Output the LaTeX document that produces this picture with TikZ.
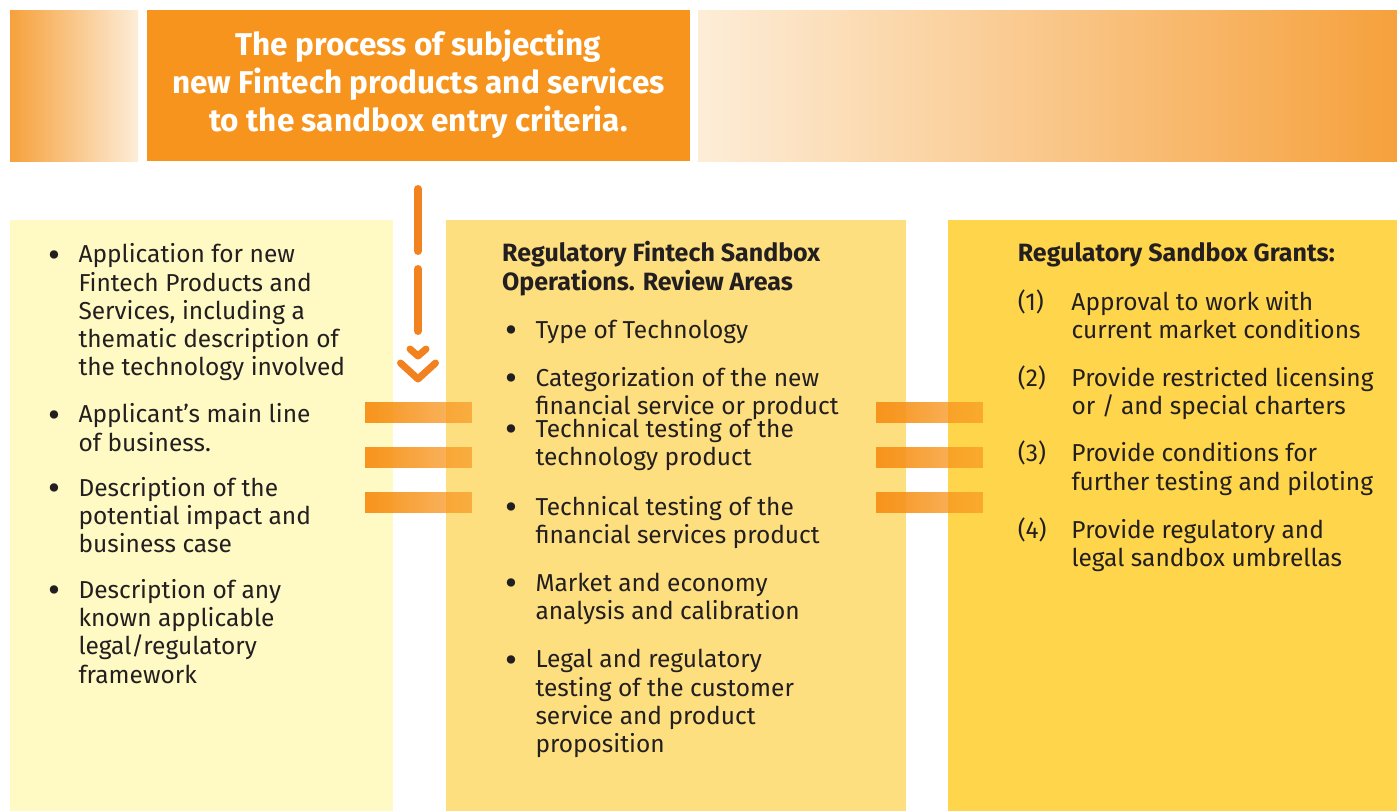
\documentclass[tikz,border=0pt]{standalone}
\usepackage{graphicx}
\usepackage{fontspec}
\setmainfont{Fira Sans}
\usetikzlibrary{fadings}
\definecolor{sbOrange}{RGB}{247,148,29}
\definecolor{sbArrow}{RGB}{242,130,32}
\definecolor{sbDeep}{RGB}{246,161,60}
\definecolor{sbPale}{RGB}{253,237,216}
\definecolor{sbLemon}{RGB}{255,249,196}
\definecolor{sbHoney}{RGB}{253,223,128}
\definecolor{sbGold}{RGB}{255,213,75}
\definecolor{sbInk}{RGB}{35,31,32}
\tikzfading[name=barfade,left color=transparent!0,right color=transparent!35]
\newcommand{\bulmark}{\makebox[0pt][r]{\makebox[29pt][l]{\hspace{-1.5pt}\raisebox{-4.3pt}{\scalebox{1.5}{\textbullet}}}}}
\newcommand{\nummark}[1]{\makebox[0pt][r]{\makebox[53.6pt][l]{(#1)}}}
\tikzset{
  banner/.style={anchor=north west,inner sep=0pt,outer sep=0pt,minimum height=151pt},
  panel/.style={anchor=north west,inner sep=0pt,outer sep=0pt,minimum height=591pt},
  % base of a multi-line node = baseline of its last line
  title/.style={anchor=base,align=center,inner sep=0pt,text=white,font=\fontsize{31.5}{38.3}\selectfont\bfseries},
  item/.style={anchor=base west,align=left,inner sep=0pt,text=sbInk,font=\fontsize{24.5}{28.3}\selectfont},
  head/.style={item,font=\fontsize{25}{28.3}\selectfont\bfseries},
  dashflow/.style={draw=sbArrow,line width=8pt,line cap=round},
  chevron/.style={draw=sbArrow,line width=7pt,line cap=round,line join=round},
  bar/.style={fill=sbOrange,path fading=barfade,fit fading=true}
}
\begin{document}
\begin{tikzpicture}[x=1pt,y=-1pt]
  \useasboundingbox (0,0) rectangle (1397,811);
  % banner row
  \node[banner,left color=sbDeep,right color=sbPale,minimum width=128pt] (fadeL) at (10,10) {};
  \node[banner,fill=sbOrange,minimum width=543pt] (intro) at (147,10) {};
  \node[banner,left color=sbPale,right color=sbDeep,minimum width=699pt] (fadeR) at (698,10) {};
  \node[title] (introtext) at (418.5,131.6) {The process of subjecting\\new Fintech products and services\\to the sandbox entry criteria.};
  % three columns
  \node[panel,fill=sbLemon,minimum width=383pt] (inputs) at (10,220) {};
  \node[panel,fill=sbHoney,minimum width=460pt] (review) at (446,220) {};
  \node[panel,fill=sbGold,minimum width=449pt] (grants) at (948,220) {};
  % dashed drop arrow
  \coordinate (drop) at (418,189);
  \draw[dashflow] (drop) -- ++(0,62);
  \draw[dashflow] ([yshift=-80pt]drop) -- ++(0,62);
  \draw[chevron] (410,349) -- (418,356) -- (426,349);
  \draw[chevron] (400.5,363) -- (418,379) -- (435.5,363);
  % links between columns
  \foreach \y in {402,447,492}{
    \fill[bar] (365,\y) rectangle ++(107,21);
    \fill[bar] (876,\y) rectangle ++(107,21);
  }
  % left column
  \node[item] (app) at (78.3,375.9) {\bulmark Application for new\\Fintech Products and\\Services, including a\\thematic description of\\the technology involved};
  \node[item] (line) at (78.3,451) {\bulmark Applicant's main line\\of business.};
  \node[item] (impact) at (78.3,552.6) {\bulmark Description of the\\potential impact and\\business case};
  \node[item] (legal) at (78.3,683.2) {\bulmark Description of any\\known applicable\\legal/regulatory\\framework};
  % middle column
  \node[head] (reviewhead) at (502,290) {Regulatory Fintech Sandbox\\Operations. Review Areas};
  \node[item] (tech) at (535.3,338.3) {\bulmark Type of Technology};
  \node[item] (categ) at (535.3,414.3) {\bulmark Categorization of the new\\financial service or product};
  \node[item] (techtest) at (535.3,465.6) {\bulmark Technical testing of the\\technology product};
  \node[item] (fintest) at (535.3,543.3) {\bulmark Technical testing of the\\financial services product};
  \node[item] (market) at (535.3,619.3) {\bulmark Market and economy\\analysis and calibration};
  \node[item] (custom) at (535.3,752.6) {\bulmark Legal and regulatory\\testing of the customer\\service and product\\proposition};
  % right column
  \node[head] (grantshead) at (1017.7,261.7) {Regulatory Sandbox Grants:};
  \node[item] (g1) at (1071.3,338.3) {\nummark{1}Approval to work with\\current market conditions};
  \node[item] (g2) at (1071.3,414.3) {\nummark{2}Provide restricted licensing\\or / and special charters};
  \node[item] (g3) at (1071.3,490) {\nummark{3}Provide conditions for\\further testing and piloting};
  \node[item] (g4) at (1071.3,566.6) {\nummark{4}Provide regulatory and\\legal sandbox umbrellas};
\end{tikzpicture}
\end{document}
